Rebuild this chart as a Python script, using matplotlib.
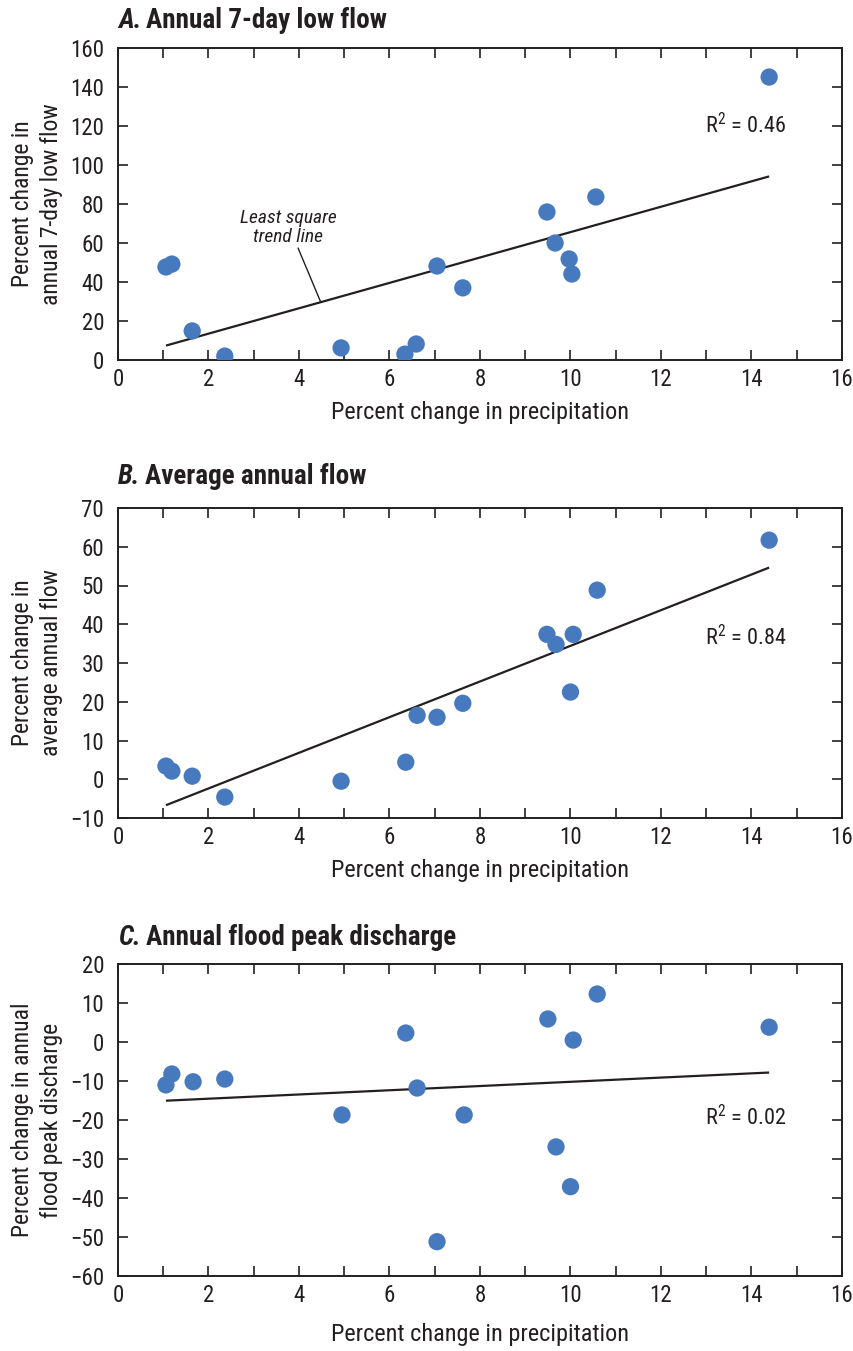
import matplotlib
matplotlib.use("Agg")
import matplotlib.pyplot as plt
from matplotlib import font_manager as fm
import numpy as np

# ---------------- data ----------------
precip_a = [1.06, 1.19, 1.64, 2.36, 4.93, 6.34, 6.59, 7.05, 7.62, 9.48, 9.66, 9.97, 10.03, 10.56, 14.39]
lowflow = [47.7, 49.2, 14.9, 2.0, 6.2, 3.0, 8.2, 48.2, 37.0, 75.9, 60.0, 51.8, 44.1, 83.6, 145.1]

precip_b = [1.06, 1.19, 1.64, 2.36, 4.93, 6.36, 6.61, 7.05, 7.62, 9.48, 9.68, 10.00, 10.06, 10.59, 14.39]
avgflow = [3.4, 2.1, 0.8, -4.6, -0.5, 4.4, 16.5, 16.0, 19.6, 37.4, 34.8, 22.5, 37.4, 48.8, 61.7]

precip_c = [1.06, 1.19, 1.66, 2.36, 4.95, 6.36, 6.61, 7.05, 7.65, 9.50, 9.68, 10.00, 10.06, 10.59, 14.39]
floodpeak = [-11.0, -8.2, -10.2, -9.5, -18.7, 2.3, -11.8, -51.2, -18.7, 5.9, -26.9, -37.1, 0.5, 12.3, 3.8]

titles_letter = ["A.", "B.", "C."]
titles_text = ["Annual 7-day low flow", "Average annual flow", "Annual flood peak discharge"]
ylabels = ["Percent change in\nannual 7-day low flow",
           "Percent change in\naverage annual flow",
           "Percent change in annual\nflood peak discharge"]
xlabel = "Percent change in precipitation"
r2_values = ["0.46", "0.84", "0.02"]
ylims = [(0, 160), (-10, 70), (-60, 20)]
ysteps = [20, 10, 10]
r2_pos_y = [120, 36.6, -19.4]

# ---------------- fonts ----------------
names = {f.name for f in fm.fontManager.ttflist}
family = "DejaVu Sans"
for cand in ["Roboto Condensed", "Liberation Sans Narrow", "Roboto", "Liberation Sans"]:
    if cand in names:
        family = cand
        break
plt.rcParams['font.family'] = [family, 'DejaVu Sans']
plt.rcParams['mathtext.fontset'] = 'custom'
plt.rcParams['mathtext.rm'] = family
plt.rcParams['mathtext.it'] = family + ':italic'
plt.rcParams['mathtext.bf'] = family + ':bold'

dot_color = "#4679bd"
ink = "#231f20"

fig = plt.figure(figsize=(8.54, 13.51), dpi=100)
W, H = 854, 1351
boxes = [(118, 48, 842, 360), (118, 508, 842, 818), (118, 964, 842, 1276)]
title_base = [28, 484, 945]
xlabel_y = [412, 871, 1334]
ylabel_x = 37

datasets = [(precip_a, lowflow), (precip_b, avgflow), (precip_c, floodpeak)]

for i, ((x0, y0, x1, y1), (xs, ys)) in enumerate(zip(boxes, datasets)):
    ax = fig.add_axes([x0 / W, 1 - y1 / H, (x1 - x0) / W, (y1 - y0) / H])
    xs = np.asarray(xs)
    ys = np.asarray(ys)
    ax.set_xlim(0, 16)
    ax.set_ylim(*ylims[i])
    # least-squares trend line
    m, b = np.polyfit(xs, ys, 1)
    xl = np.array([xs.min(), xs.max()])
    ax.plot(xl, m * xl + b, color=ink, lw=1.6, zorder=2, solid_capstyle='butt')
    ax.scatter(xs, ys, s=155, color=dot_color, edgecolors='none', zorder=3)

    yt = np.arange(ylims[i][0], ylims[i][1] + 1, ysteps[i])
    ax.set_xticks(np.arange(0, 17, 2))
    ax.set_xticks(np.arange(0, 17, 1), minor=True)
    ax.set_yticks(yt)
    ax.set_yticklabels([str(v).replace('-', '\u2212') for v in yt])
    ax.tick_params(axis='both', which='both', direction='in', top=True, right=True,
                   color=ink, width=1.2, length=7, labelsize=16.5, labelcolor=ink)
    ax.tick_params(axis='x', which='major', pad=6)
    ax.tick_params(axis='y', which='major', pad=10)
    ax.tick_params(axis='y', which='minor', left=False, right=False)
    for s in ax.spines.values():
        s.set_linewidth(1.4)
        s.set_color(ink)

    fig.text(0.5 * (x0 + x1) / W, 1 - xlabel_y[i] / H, xlabel, fontsize=17.5, color=ink,
             ha='center', va='center')
    fig.text(ylabel_x / W, 1 - 0.5 * (y0 + y1) / H, ylabels[i], fontsize=17, color=ink,
             ha='center', va='center', rotation=90, linespacing=1.3, multialignment='center')

    ax.text(12.97, r2_pos_y[i], "R$^{2}$ = " + r2_values[i], fontsize=16, color=ink,
            ha='left', va='center')

    # title: bold-italic letter + bold text
    t1 = fig.text(x0 / W, 1 - title_base[i] / H, titles_letter[i], fontsize=19.5,
                  fontweight='bold', fontstyle='italic', color=ink, ha='left', va='baseline')
    fig.canvas.draw()
    bb = t1.get_window_extent()
    fig.text((bb.x1 + 5) / W, 1 - title_base[i] / H, titles_text[i], fontsize=19.5,
             fontweight='bold', color=ink, ha='left', va='baseline')

    if i == 0:
        ax.text(3.76, 68.0, "Least square\ntrend line", ha='center', va='center',
                fontsize=14, fontstyle='italic', color=ink, linespacing=1.05)
        ax.annotate("", xy=(4.48, 29.7), xytext=(3.98, 57.4),
                    arrowprops=dict(arrowstyle='-', color=ink, lw=1.0, shrinkA=0, shrinkB=0))

fig.savefig("out.png", dpi=100)
